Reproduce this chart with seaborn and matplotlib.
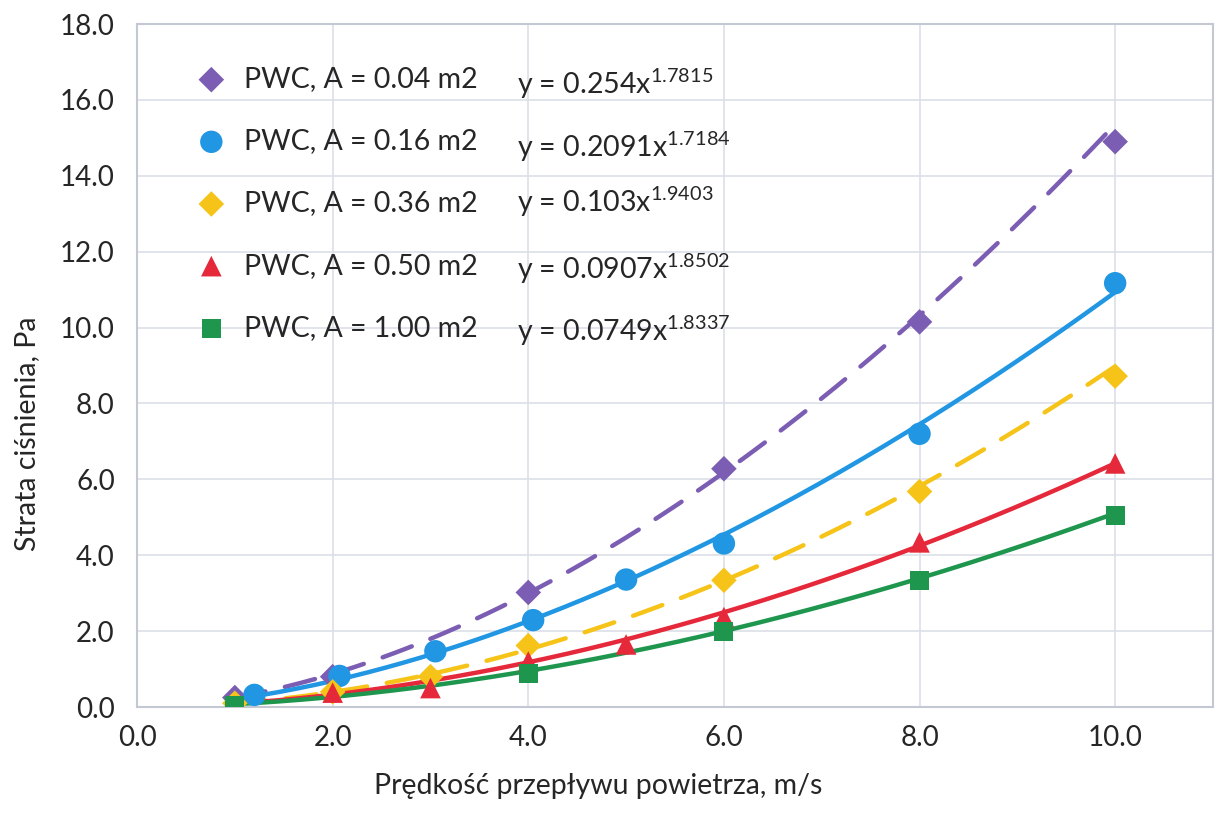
import numpy as np
import pandas as pd
import matplotlib
matplotlib.use("Agg")
import matplotlib.pyplot as plt
import seaborn as sns

# ---- data ----
labels = ["PWC, A = 0.04 m2", "PWC, A = 0.16 m2", "PWC, A = 0.36 m2",
          "PWC, A = 0.50 m2", "PWC, A = 1.00 m2"]
x_004 = [1.0, 2.0, 4.0, 6.0, 8.0, 10.0]
y_004 = [0.25, 0.80, 3.02, 6.28, 10.15, 14.90]
x_016 = [1.2, 2.07, 3.05, 4.05, 5.0, 6.0, 8.0, 10.0]
y_016 = [0.32, 0.82, 1.47, 2.29, 3.36, 4.31, 7.20, 11.17]
x_036 = [1.0, 2.0, 3.0, 4.0, 6.0, 8.0, 10.0]
y_036 = [0.10, 0.40, 0.80, 1.62, 3.34, 5.68, 8.72]
x_050 = [1.0, 2.0, 3.0, 4.0, 5.0, 6.0, 8.0, 10.0]
y_050 = [0.03, 0.38, 0.50, 1.20, 1.65, 2.37, 4.34, 6.42]
x_100 = [1.0, 4.0, 6.0, 8.0, 10.0]
y_100 = [0.05, 0.88, 1.98, 3.34, 5.04]
# power trendline coefficients shown on the chart: y = a * x^b
fit_a = [0.254, 0.2091, 0.103, 0.0907, 0.0749]
fit_b = [1.7815, 1.7184, 1.9403, 1.8502, 1.8337]
fit_a_txt = ["0.254", "0.2091", "0.103", "0.0907", "0.0749"]
fit_b_txt = ["1.7815", "1.7184", "1.9403", "1.8502", "1.8337"]
x_ticks = [0.0, 2.0, 4.0, 6.0, 8.0, 10.0]
y_ticks = [0.0, 2.0, 4.0, 6.0, 8.0, 10.0, 12.0, 14.0, 16.0, 18.0]

xs = [x_004, x_016, x_036, x_050, x_100]
ys = [y_004, y_016, y_036, y_050, y_100]

colors = ["#7B5DB3", "#2196E3", "#F6C419", "#E5283A", "#1E964E"]
markers = ["D", "o", "D", "^", "s"]
msizes = [170, 260, 170, 220, 190]
styles = [(0, (7, 4.5)), "-", (0, (7, 4.5)), "-", "-"]

sns.set_theme(style="white")
plt.rcParams["font.family"] = ["Lato", "DejaVu Sans"]
plt.rcParams["mathtext.fontset"] = "custom"
plt.rcParams["mathtext.rm"] = "Lato"

fig = plt.figure(figsize=(12.16, 8.14), dpi=100)
ax = fig.add_axes([0.1127, 0.1314, 0.8848, 0.8391])

grid_c = "#DCE0E8"
for i in range(5):
    df = pd.DataFrame({"x": xs[i], "y": ys[i]})
    xf = np.linspace(1.0, 10.0, 200)
    dff = pd.DataFrame({"x": xf, "y": fit_a[i] * xf ** fit_b[i]})
    sns.lineplot(data=dff, x="x", y="y", ax=ax, color=colors[i], lw=3.2,
                 linestyle=styles[i], legend=False, zorder=2,
                 solid_capstyle="round", dash_capstyle="round")
    sns.scatterplot(data=df, x="x", y="y", ax=ax, color=colors[i],
                    marker=markers[i], s=msizes[i], edgecolor="none",
                    label=labels[i], zorder=3)

ax.set_xlim(0, 11)
ax.set_ylim(0, 18)
ax.set_xticks(x_ticks)
ax.set_yticks(y_ticks)
ax.set_xticklabels([f"{v:.1f}" for v in x_ticks])
ax.set_yticklabels([f"{v:.1f}" for v in y_ticks])
ax.tick_params(axis="both", length=0, labelsize=20, colors="#262626")
ax.tick_params(axis="x", pad=13)
ax.tick_params(axis="y", pad=16)
ax.grid(True, color=grid_c, lw=1.2)
ax.set_axisbelow(True)
for sp in ax.spines.values():
    sp.set_color("#C3C8D2")
    sp.set_linewidth(1.5)

ax.set_xlabel("Prędkość przepływu powietrza, m/s", fontsize=20.5,
              color="#262626", labelpad=16)
ax.set_ylabel("Strata ciśnienia, Pa", fontsize=20.5, color="#262626",
              labelpad=14)
ax.xaxis.label.set_x(0.429)
ax.yaxis.label.set_y(0.40)

leg = ax.legend(loc="upper left", bbox_to_anchor=(0.032, 0.955),
                frameon=False, fontsize=20.5, labelspacing=1.27,
                handletextpad=0.15, borderaxespad=0.0)
for t in leg.get_texts():
    t.set_color("#262626")

eq_y = [16.42, 14.77, 13.32, 11.56, 9.93]
for i in range(5):
    ax.text(3.88, eq_y[i],
            "y = " + fit_a_txt[i] + "x$^{\\mathregular{" + fit_b_txt[i] + "}}$",
            fontsize=20.5, color="#262626", va="center", ha="left")

fig.savefig("out.png", dpi=100)
